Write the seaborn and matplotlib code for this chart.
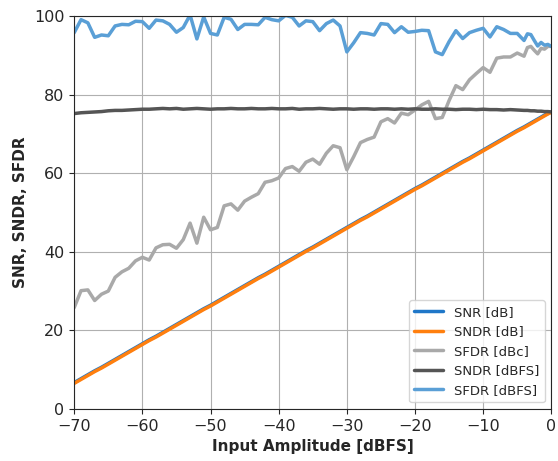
import matplotlib
matplotlib.use("Agg")
import matplotlib.pyplot as plt
import numpy as np
import pandas as pd
import seaborn as sns

# input amplitude [dBFS]: 1 dB steps, then 0.5 dB near full scale
amp = [-70, -69, -68, -67, -66, -65, -64, -63, -62, -61,
       -60, -59, -58, -57, -56, -55, -54, -53, -52, -51,
       -50, -49, -48, -47, -46, -45, -44, -43, -42, -41,
       -40, -39, -38, -37, -36, -35, -34, -33, -32, -31,
       -30, -29, -28, -27, -26, -25, -24, -23, -22, -21,
       -20, -19, -18, -17, -16, -15, -14, -13, -12, -11,
       -10, -9, -8, -7, -6, -5, -4, -3.5, -3, -2.5, -2, -1.5, -1, -0.5, 0]

sndr_db = [6.5, 7.5, 8.5, 9.5, 10.4, 11.4, 12.4, 13.4, 14.4, 15.4,
           16.4, 17.4, 18.3, 19.3, 20.3, 21.3, 22.3, 23.3, 24.3, 25.3,
           26.2, 27.2, 28.2, 29.2, 30.2, 31.2, 32.2, 33.2, 34.1, 35.1,
           36.1, 37.1, 38.1, 39.1, 40.1, 41.0, 42.0, 43.0, 44.0, 45.0,
           46.0, 47.0, 48.0, 48.9, 49.9, 50.9, 51.9, 52.9, 53.9, 54.9,
           55.9, 56.8, 57.8, 58.8, 59.8, 60.8, 61.8, 62.8, 63.7, 64.7,
           65.7, 66.7, 67.7, 68.7, 69.7, 70.7, 71.6, 72.1, 72.6, 73.1, 73.6, 74.1, 74.6, 75.1, 75.5]

snr_db = [6.7, 7.7, 8.7, 9.7, 10.6, 11.6, 12.6, 13.6, 14.6, 15.6,
          16.6, 17.6, 18.5, 19.5, 20.5, 21.5, 22.5, 23.5, 24.5, 25.5,
          26.4, 27.4, 28.4, 29.4, 30.4, 31.4, 32.4, 33.4, 34.3, 35.3,
          36.3, 37.3, 38.3, 39.3, 40.3, 41.2, 42.2, 43.2, 44.2, 45.2,
          46.2, 47.2, 48.2, 49.1, 50.1, 51.1, 52.1, 53.1, 54.1, 55.1,
          56.1, 57.0, 58.0, 59.0, 60.0, 61.0, 62.0, 63.0, 63.9, 64.9,
          65.9, 66.9, 67.9, 68.9, 69.9, 70.9, 71.8, 72.3, 72.8, 73.3, 73.8, 74.3, 74.8, 75.2, 75.6]

sfdr_dbc = [25.8, 30.1, 30.3, 27.6, 29.2, 30.0, 33.5, 34.9, 35.8, 37.7,
            38.6, 37.9, 41.0, 41.8, 41.9, 40.9, 43.1, 47.3, 42.2, 48.8,
            45.6, 46.2, 51.7, 52.2, 50.6, 52.9, 53.9, 54.8, 57.7, 58.1,
            58.8, 61.2, 61.7, 60.5, 62.8, 63.6, 62.3, 65.1, 67.0, 66.5,
            60.9, 64.2, 67.8, 68.6, 69.2, 73.1, 73.9, 72.8, 75.3, 74.9,
            76.1, 77.4, 78.3, 73.9, 74.2, 78.5, 82.3, 81.3, 83.8, 85.4,
            86.9, 85.7, 89.3, 89.6, 89.6, 90.6, 89.8, 92.0, 92.3, 91.3, 90.4, 91.8, 91.6, 92.3, 92.3]

sndr_dbfs = [75.2, 75.4, 75.5, 75.6, 75.7, 75.9, 76.0, 76.0, 76.1, 76.2,
             76.3, 76.3, 76.4, 76.5, 76.4, 76.5, 76.3, 76.4, 76.5, 76.4,
             76.3, 76.4, 76.4, 76.5, 76.4, 76.4, 76.5, 76.4, 76.4, 76.5,
             76.4, 76.4, 76.5, 76.3, 76.4, 76.4, 76.5, 76.4, 76.3, 76.4,
             76.4, 76.3, 76.4, 76.4, 76.3, 76.4, 76.4, 76.3, 76.4, 76.3,
             76.4, 76.3, 76.3, 76.4, 76.3, 76.3, 76.2, 76.3, 76.3, 76.2,
             76.3, 76.2, 76.2, 76.1, 76.2, 76.1, 76.0, 76.0, 75.9, 75.9, 75.8, 75.8, 75.7, 75.7, 75.6]

sfdr_dbfs = [95.8, 99.1, 98.3, 94.6, 95.2, 95.0, 97.5, 97.9, 97.8, 98.7,
             98.6, 96.9, 99.0, 98.8, 97.9, 95.9, 97.1, 100.3, 94.2, 99.8,
             95.6, 95.2, 99.7, 99.2, 96.6, 97.9, 97.9, 97.8, 99.7, 99.1,
             98.8, 100.2, 99.7, 97.5, 98.8, 98.6, 96.3, 98.1, 99.0, 97.5,
             90.9, 93.2, 95.8, 95.6, 95.2, 98.1, 97.9, 95.8, 97.3, 95.9,
             96.1, 96.4, 96.3, 90.9, 90.2, 93.5, 96.3, 94.3, 95.8, 96.4,
             96.9, 94.7, 97.3, 96.6, 95.6, 95.6, 93.8, 95.5, 95.3, 93.8, 92.4, 93.3, 92.6, 92.8, 92.3]

series = [
    ("SNR [dB]", snr_db, "#1f77c8"),
    ("SNDR [dB]", sndr_db, "#ff7f0e"),
    ("SFDR [dBc]", sfdr_dbc, "#a9a9a9"),
    ("SNDR [dBFS]", sndr_dbfs, "#555555"),
    ("SFDR [dBFS]", sfdr_dbfs, "#5a9fd6"),
]

sns.set_style("ticks")
fig, ax = plt.subplots(figsize=(5.58, 4.61), dpi=100)
fig.subplots_adjust(left=0.133, right=0.988, top=0.965, bottom=0.113)

for name, vals, col in series:
    df = pd.DataFrame({"amp": amp, "val": vals})
    sns.lineplot(data=df, x="amp", y="val", ax=ax, color=col, lw=2.5, label=name)

ax.set_xlim(-70, 0)
ax.set_ylim(0, 100)
ax.set_xticks(np.arange(-70, 1, 10))
ax.set_yticks(np.arange(0, 101, 20))
ax.tick_params(labelsize=11.5)
ax.grid(True, color="#b0b0b0", lw=0.8)
ax.set_xlabel("Input Amplitude [dBFS]", fontsize=11, fontweight="bold")
ax.set_ylabel("SNR, SNDR, SFDR", fontsize=11, fontweight="bold")
ax.legend(loc="lower right", fontsize=9.5, handlelength=2.2)

fig.savefig("out.png", dpi=100)
